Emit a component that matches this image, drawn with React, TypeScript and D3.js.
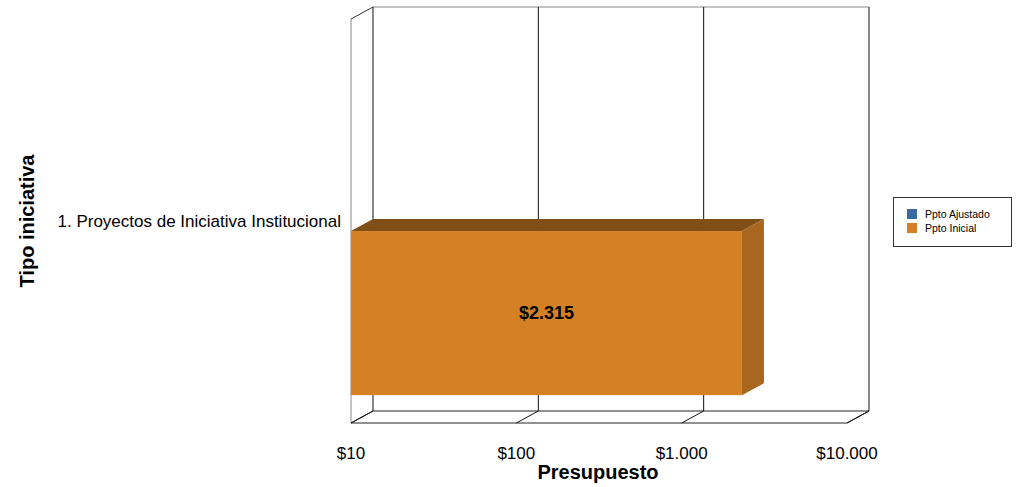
import { useEffect } from "react";
import * as d3 from "d3";

const categories = ["1. Proyectos de Iniciativa Institucional"];
const seriesNames = ["Ppto Ajustado", "Ppto Inicial"];
const pptoAjustado = [0];
const pptoInicial = [2315];
const xTicks = [10, 100, 1000, 10000];
const tickLabels = ["$10", "$100", "$1.000", "$10.000"];
const valueLabels = ["", "$2.315"];

const FONT = "'Liberation Sans', Arial, Helvetica, sans-serif";
const W = 1019;
const H = 487;
const DX = 22;
const DY = 12;
const PLOT = { left: 351, right: 847, top: 19, bottom: 423 };

const COLORS = [
  { front: "#3b6aa0", top: "#23416a", side: "#2e5482" },
  { front: "#d58025", top: "#7f4f17", side: "#a8661f" },
];

function App() {
  useEffect(() => {
    document.body.style.margin = "0";
  }, []);

  const x = d3.scaleLog().domain([10, 10000]).range([PLOT.left, PLOT.right]);
  const y = d3
    .scaleBand<string>()
    .domain(categories)
    .range([PLOT.top, PLOT.bottom])
    .paddingInner(0)
    .paddingOuter(0.08);
  const ys = d3
    .scaleBand<string>()
    .domain(seriesNames)
    .range([0, y.bandwidth()])
    .paddingInner(0.109);

  const values = [pptoAjustado, pptoInicial];

  const poly = (pts: [number, number][]) => pts.map((p) => p.join(",")).join(" ");
  const x0 = PLOT.left;
  const x1 = PLOT.right;

  return (
    <svg width={W} height={H} style={{ display: "block", background: "#fff" }} fontFamily={FONT}>
      {/* back wall */}
      <rect x={x0 + DX} y={PLOT.top - DY} width={x1 - x0} height={PLOT.bottom - PLOT.top} fill="#fff" />
      <line x1={x0 + DX} x2={x1 + DX} y1={PLOT.top - DY} y2={PLOT.top - DY} stroke="#888" />
      {/* left wall */}
      <line x1={x0} y1={PLOT.top} x2={x0 + DX} y2={PLOT.top - DY} stroke="#333" />
      <line x1={x0} y1={PLOT.top} x2={x0} y2={PLOT.bottom} stroke="#888" />
      {/* floor */}
      <polygon
        points={poly([
          [x0, PLOT.bottom],
          [x0 + DX, PLOT.bottom - DY],
          [x1 + DX, PLOT.bottom - DY],
          [x1, PLOT.bottom],
        ])}
        fill="#fff"
        stroke="#222"
      />
      {/* grid */}
      {xTicks.map((t) => (
        <g key={t}>
          <line x1={x(t) + DX} x2={x(t) + DX} y1={PLOT.top - DY} y2={PLOT.bottom - DY} stroke="#111" />
          <line x1={x(t)} y1={PLOT.bottom} x2={x(t) + DX} y2={PLOT.bottom - DY} stroke="#111" />
        </g>
      ))}
      {/* bars */}
      {categories.map((c, ci) =>
        seriesNames.map((s, si) => {
          const v = values[si][ci];
          if (!(v > 0)) return null;
          const yt = (y(c) ?? 0) + (ys(s) ?? 0);
          const yb = yt + ys.bandwidth();
          const xe = x(v);
          const col = COLORS[si];
          return (
            <g key={c + s}>
              <polygon
                points={poly([
                  [x0, yt],
                  [x0 + DX, yt - DY],
                  [xe + DX, yt - DY],
                  [xe, yt],
                ])}
                fill={col.top}
              />
              <polygon
                points={poly([
                  [xe, yt],
                  [xe + DX, yt - DY],
                  [xe + DX, yb - DY],
                  [xe, yb],
                ])}
                fill={col.side}
              />
              <rect x={x0} y={yt} width={xe - x0} height={yb - yt} fill={col.front} />
              <text
                x={(x0 + xe) / 2}
                y={(yt + yb) / 2 + 6}
                textAnchor="middle"
                fontSize={18}
                fontWeight="bold"
                fill="#000"
              >
                {valueLabels[si]}
              </text>
            </g>
          );
        })
      )}
      {/* category labels */}
      {categories.map((c) => (
        <text key={c} x={341} y={(y(c) ?? 0) + y.bandwidth() / 2 + 6} textAnchor="end" fontSize={17} fill="#000">
          {c}
        </text>
      ))}
      {/* x tick labels */}
      {xTicks.map((t, i) => (
        <text key={t} x={x(t)} y={459} textAnchor="middle" fontSize={17} fill="#000">
          {tickLabels[i]}
        </text>
      ))}
      {/* axis titles */}
      <text x={598} y={479} textAnchor="middle" fontSize={20} fontWeight="bold">
        Presupuesto
      </text>
      <text transform="translate(34,221) rotate(-90)" textAnchor="middle" fontSize={20} fontWeight="bold">
        Tipo iniciativa
      </text>
      {/* legend */}
      <rect x={893.5} y={197.5} width={118} height={49} fill="#fff" stroke="#333" />
      {seriesNames.map((s, i) => (
        <g key={s}>
          <rect x={907} y={209 + i * 14} width={10} height={10} fill={COLORS[i].front} />
          <text x={925} y={218 + i * 14} fontSize={10.5} fill="#000">
            {s}
          </text>
        </g>
      ))}
    </svg>
  );
}

export default App;
